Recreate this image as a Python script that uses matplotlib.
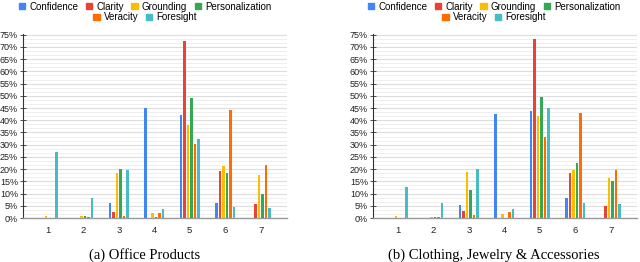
import numpy as np
import matplotlib
matplotlib.use("Agg")
from matplotlib import pyplot as plt
from matplotlib.ticker import MultipleLocator, AutoMinorLocator, FuncFormatter
from matplotlib.patches import Patch

groups = [1, 2, 3, 4, 5, 6, 7]
series = ['Confidence', 'Clarity', 'Grounding', 'Personalization', 'Veracity', 'Foresight']
colors = ['#4285F4', '#EA4335', '#FBBC04', '#34A853', '#FF6D01', '#46BDC6']

# (a) Office Products, percent of responses per score
office_confidence = [0, 0, 6.0, 45.0, 42.0, 6.3, 0]
office_clarity = [0, 0, 2.3, 0, 72.5, 19.2, 5.7]
office_grounding = [0.8, 0.7, 18.5, 2.2, 38.0, 21.4, 17.7]
office_personalization = [0.2, 0.8, 20.0, 0.6, 49.3, 18.5, 9.9]
office_veracity = [0, 0.5, 1.0, 2.1, 30.2, 44.0, 21.8]
office_foresight = [27.0, 8.0, 19.8, 3.6, 32.5, 4.6, 4.1]

# (b) Clothing, Jewelry & Accessories
cloth_confidence = [0, 0, 5.2, 42.6, 43.7, 8.0, 0]
cloth_clarity = [0, 0, 2.7, 0.2, 73.3, 18.5, 5.0]
cloth_grounding = [0.7, 0.6, 18.7, 1.6, 41.7, 19.8, 16.3]
cloth_personalization = [0, 0.5, 11.6, 0.1, 49.4, 22.4, 15.3]
cloth_veracity = [0, 0.5, 1.2, 2.4, 33.0, 42.8, 19.8]
cloth_foresight = [12.7, 6.0, 20.0, 3.6, 45.2, 6.1, 5.6]

office = [office_confidence, office_clarity, office_grounding,
          office_personalization, office_veracity, office_foresight]
cloth = [cloth_confidence, cloth_clarity, cloth_grounding,
         cloth_personalization, cloth_veracity, cloth_foresight]

plt.rcParams['font.family'] = ['Liberation Sans', 'DejaVu Sans']

fig = plt.figure(figsize=(6.4, 2.62), dpi=100)


def draw_panel(ax, data, caption, legend_x):
    x = np.array(groups, dtype=float)
    for i, vals in enumerate(data):
        ax.bar(x + (i - 2.5) * 0.1, vals, width=0.07, color=colors[i], zorder=3)
    ax.set_xlim(0.3, 7.74)
    ax.set_ylim(0, 75.3)
    ax.set_xticks(groups)
    ax.yaxis.set_major_locator(MultipleLocator(5))
    ax.yaxis.set_minor_locator(AutoMinorLocator(3))
    ax.yaxis.set_major_formatter(FuncFormatter(lambda v, p: f'{int(round(v))}%'))
    ax.grid(axis='y', which='major', color='#dddddd', linewidth=0.8, zorder=0)
    ax.grid(axis='y', which='minor', color='#efefef', linewidth=0.7, zorder=0)
    for s in ['top', 'right']:
        ax.spines[s].set_visible(False)
    ax.spines['left'].set_color('#333333')
    ax.spines['left'].set_linewidth(0.8)
    ax.spines['bottom'].set_color('#999999')
    ax.spines['bottom'].set_linewidth(1.0)
    ax.tick_params(axis='y', which='major', direction='inout', length=4,
                   width=0.6, color='#333333', labelsize=6.5, pad=1.5, labelcolor='#222222')
    ax.tick_params(axis='y', which='minor', length=0)
    ax.tick_params(axis='x', length=0, labelsize=6.8, pad=6, labelcolor='#222222')

    handles = [Patch(color=c) for c in colors]
    fig.legend(handles[:4], series[:4], loc='center', ncol=4,
               bbox_to_anchor=(legend_x, 1 - 6.5 / 262), frameon=False,
               fontsize=7, handlelength=0.65, handleheight=0.65,
               handletextpad=0.4, columnspacing=0.8, borderpad=0)
    fig.legend(handles[4:], series[4:], loc='center', ncol=2,
               bbox_to_anchor=(legend_x, 1 - 17.5 / 262), frameon=False,
               fontsize=7, handlelength=0.65, handleheight=0.65,
               handletextpad=0.4, columnspacing=0.8, borderpad=0)
    fig.text(legend_x, 1 - 255 / 262, caption, ha='center', va='center',
             fontsize=10.5, family=['Liberation Serif', 'DejaVu Serif'])


ax1 = fig.add_axes([23 / 640, 1 - 218 / 262, 264 / 640, 184 / 262])
draw_panel(ax1, office, '(a) Office Products', 145 / 640)

ax2 = fig.add_axes([373 / 640, 1 - 218 / 262, 264 / 640, 184 / 262])
draw_panel(ax2, cloth, '(b) Clothing, Jewelry & Accessories', 494 / 640)

fig.savefig('out.png', dpi=100)
